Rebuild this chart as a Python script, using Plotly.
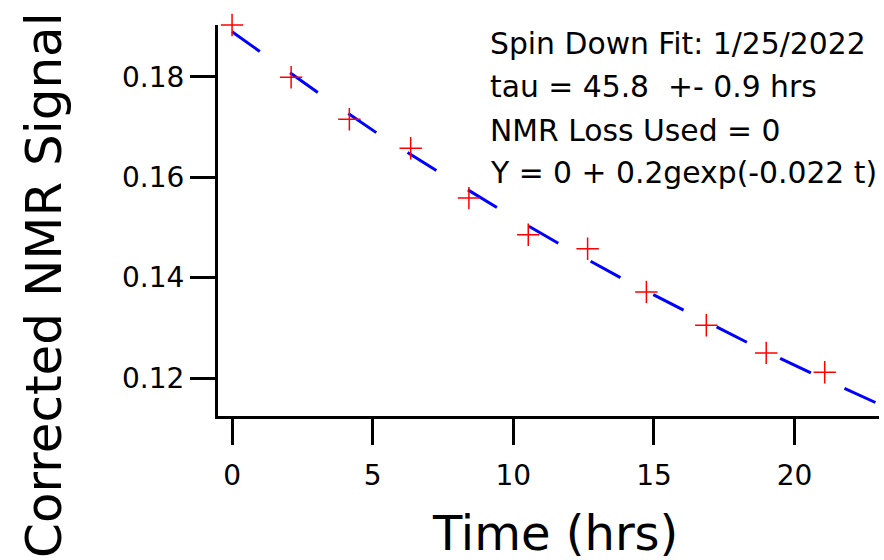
import plotly.graph_objects as go

# Measured data (time in hrs, corrected NMR signal)
time_hrs = [0, 2.10, 4.17, 6.35, 8.42, 10.53, 12.64, 14.73, 16.86, 18.99, 21.07]
signal = [0.19035, 0.17994, 0.17158, 0.16581, 0.15586, 0.14856, 0.14577, 0.13716, 0.13051, 0.12501, 0.12115]

# Fit curve values
fit_t = [0, 3.13, 5.26, 7.45, 9.64, 11.89, 14.14, 16.45, 18.70, 21.07, 23.0]
fit_y = [0.1890, 0.1766, 0.1684, 0.1607, 0.1532, 0.1459, 0.1390, 0.1324, 0.1260, 0.1197, 0.1148]

x_ticks = [0, 5, 10, 15, 20]
y_ticks = [0.12, 0.14, 0.16, 0.18]

info_lines = [
    "Spin Down Fit: 1/25/2022",
    "tau = 45.8  +- 0.9 hrs",
    "NMR Loss Used = 0",
    "Y = 0 + 0.2gexp(-0.022 t)",
]

FONT = "DejaVu Sans"
L, R, T, B = 218, 5, 25, 144
W, H = 884, 560
PW, PH = W - L - R, H - T - B

fig = go.Figure()
fig.add_trace(go.Scatter(
    x=fit_t, y=fit_y, mode="lines",
    line=dict(color="#0000FF", width=3, dash="34px,37px"),
    hoverinfo="skip", showlegend=False,
))
fig.add_trace(go.Scatter(
    x=time_hrs, y=signal, mode="markers",
    marker=dict(symbol="cross-thin", size=16, line=dict(color="#FF0000", width=1.5), color="#FF0000"),
    cliponaxis=False, showlegend=False,
))

def px_to_paper_y(py):
    return (H - B - py) / PH

def px_to_paper_x(px):
    return (px - L) / PW

annotations = []
for line, py in zip(info_lines, [43, 87, 130, 172]):
    annotations.append(dict(
        text=line, xref="paper", yref="paper",
        x=px_to_paper_x(488), y=px_to_paper_y(py),
        xanchor="left", yanchor="middle", showarrow=False,
        font=dict(family=FONT, size=29.8, color="black"),
    ))
annotations.append(dict(
    text="Time (hrs)", xref="paper", yref="paper",
    x=px_to_paper_x(555), y=px_to_paper_y(533),
    xanchor="center", yanchor="middle", showarrow=False,
    font=dict(family=FONT, size=48, color="black"),
))
annotations.append(dict(
    text="Corrected NMR Signal", xref="paper", yref="paper",
    x=px_to_paper_x(44), y=px_to_paper_y(285),
    xanchor="center", yanchor="middle", showarrow=False, textangle=-90,
    font=dict(family=FONT, size=50, color="black"),
))

fig.update_layout(
    width=W, height=H,
    margin=dict(l=L, r=R, t=T, b=B, pad=0),
    paper_bgcolor="white", plot_bgcolor="white",
    annotations=annotations,
    font=dict(family=FONT, color="black"),
    xaxis=dict(
        range=[-0.5, 23.0], tickvals=x_ticks, ticktext=[str(v) for v in x_ticks],
        showgrid=False, zeroline=False, showline=True, linecolor="black", linewidth=3,
        ticks="outside", ticklen=26, tickwidth=2.5, tickcolor="black",
        ticklabelstandoff=6,
        tickfont=dict(family=FONT, size=28, color="black"),
    ),
    yaxis=dict(
        range=[0.11243, 0.19036], tickvals=y_ticks, ticktext=["%.2f" % v for v in y_ticks],
        showgrid=False, zeroline=False, showline=True, linecolor="black", linewidth=3,
        ticks="outside", ticklen=25, tickwidth=2.5, tickcolor="black",
        tickfont=dict(family=FONT, size=28, color="black"),
    ),
)

fig.write_html(
    "out.html",
    config={"displayModeBar": False},
    post_script="document.body.style.margin='0';document.body.style.overflow='hidden';",
)
